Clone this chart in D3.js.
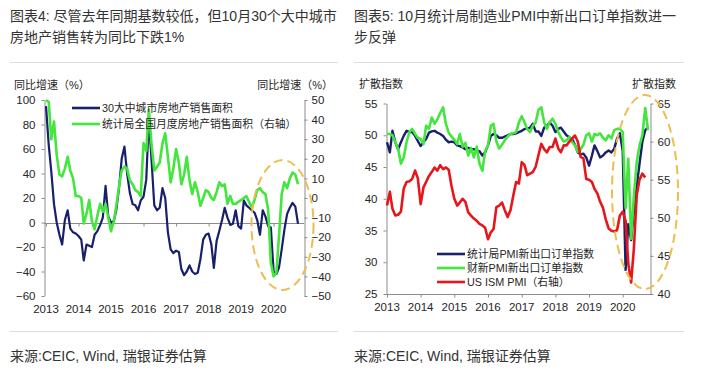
<!DOCTYPE html>
<html>
<head>
<meta charset="utf-8">
<script src="https://cdn.jsdelivr.net/npm/d3@7"></script>
<style>
  body { margin: 0; background: #fff; }
  svg { display: block; font-family: "Liberation Sans", Arial, "Noto Sans CJK SC", sans-serif; }
  .cjk { font-family: "Liberation Sans", Arial, "Noto Sans CJK SC", sans-serif; }
</style>
</head>
<body>
<svg id="chart" width="704" height="373"></svg>
<script>
// ---------- data (monthly, Jan 2013 onwards) ----------
const yearLabels = ['2013', '2014', '2015', '2016', '2017', '2018', '2019', '2020'];

// Chart 4: YoY growth (%)
const city30Sales = [95,63,42,15,0,-10,-18,2,10,-5, -8,-9,-11,-14,-31,-18,-19,-20,-10,-7,
  -2,4,30,5,0,1,10,28,52,62, 40,24,15,14,10,18,21,35,85,50, 14,10,12,28,20,-8,-22,-25,-23,-24,
  -38,-43,-40,-35,-40,-42,-41,-30,-14,-10, -9,-18,-37,-15,-7,2,12,4,-2,-1, 10,-3,-5,18,14,12,10,8,2,-10,
  10,5,-3,-4,-40,-42,-37,-22,-6,7, 12,16,13,-1];
const nationalSales = [50,49,30,39,22,12,11,15,21,14, 10,1,1,0,-13,-8,-1,-12,-16,-9,
  -3,-7,-3,-10,-17,-12,-4,6,14,16, 15,9,7,4,3,1,28,24,45,27, 14,16,18,28,33,21,8,15,25,18,
  7,12,21,9,2,8,3,-4,0,4, 3,0,-1,3,8,6,7,-3,1,-3, -3,-2,-1,0,1,-2,-5,-1,4,5,
  3,2,-6,-33,-40,-38,-20,2,8,5, 10,13,12,7];
const leftTicks4 = [-60, -40, -20, 0, 20, 40, 60, 80, 100];
const rightTicks4 = [-50, -40, -30, -20, -10, 0, 10, 20, 30, 40, 50];

// Chart 5: diffusion indices
const nbsExportOrders = [48.9,47.3,50.7,48.9,47.8,48.9,49.9,50.7,50.5,50.5, 49.9,49.1,48.3,48.9,49.4,50.4,50.6,50.7,50.4,50.2,
  49.9,49.3,48.9,49.0,48.9,48.4,48.3,48.1,47.8,48.0, 47.8,47.8,47.6,47.5,46.8,47.3,48.4,49.9,50.2,50.0,
  49.6,49.6,49.8,50.0,50.2,50.2,50.3,50.5,50.7,51.0, 51.0,51.2,51.8,50.6,50.6,49.9,51.2,51.5,52.0,51.5,
  50.5,51.0,51.2,50.6,50.0,49.7,49.4,48.5,47.3,47.0, 47.1,46.5,45.2,46.8,48.4,47.5,46.5,46.8,47.3,47.6,
  47.3,47.9,49.5,50.3,47.5,28.8,36.0,33.5,38.0,42.0, 45.5,49.0,50.8,51.2];
const caixinExportOrders = [50.2,50.2,50.0,48.9,47.9,45.5,46.5,48.9,50.5,51.0, 50.2,49.6,49.4,48.6,51.5,51.0,52.8,51.8,52.5,53.5,
  54.4,51.8,50.4,49.8,49.3,48.6,50.2,48.2,48.8,46.8, 48.0,46.5,48.2,45.5,44.4,47.5,48.4,51.5,51.8,49.0,
  47.9,48.5,49.2,49.8,50.2,50.3,50.5,52.0,53.0,52.0, 51.0,50.5,51.5,52.0,54.0,54.4,52.0,51.0,52.1,52.6,
  51.8,50.5,49.7,49.0,49.2,49.7,48.9,48.4,47.4,47.8, 48.5,50.0,50.3,49.0,50.2,50.0,50.3,49.6,49.2,50.0,
  49.5,50.8,51.0,51.0,50.5,38.5,46.3,33.7,40.5,45.8, 48.4,50.0,54.3,50.8];
const usIsmPmi = [51.6,53.4,51.2,50.3,50.4,50.8,53.8,54.7,54.8,55.1, 56.2,55.2,51.8,54.0,54.7,55.5,56.0,56.6,56.2,56.9,
  56.4,56.6,56.3,54.2,52.5,51.6,52.0,52.5,52.1,50.7, 50.3,49.9,49.6,49.2,49.0,48.7,47.2,48.1,48.5,51.4,
  51.6,52.0,51.0,50.1,51.0,52.9,54.7,54.5,57.3,56.9, 55.6,55.8,56.0,56.7,58.2,59.7,59.0,58.6,59.3,59.3,
  60.4,59.1,58.6,59.5,59.5,60.0,60.4,60.8,60.0,58.0, 57.8,55.1,55.0,54.7,53.8,53.2,52.1,51.3,49.8,48.6,
  48.3,48.2,48.4,50.3,50.8,49.6,44.0,41.5,46.0,53.0, 55.0,55.8,55.3];
const leftTicks5 = [25, 30, 35, 40, 45, 50, 55];
const rightTicks5 = [40, 45, 50, 55, 60, 65];

// ---------- texts ----------
const title4 = ['图表4: 尽管去年同期基数较低，但10月30个大中城市', '房地产销售转为同比下跌1%'];
const title5 = ['图表5: 10月统计局制造业PMI中新出口订单指数进一', '步反弹'];
const source = '来源:CEIC, Wind, 瑞银证券估算';

const months = d3.timeMonth.range(new Date(2013, 0, 1), new Date(2020, 10, 1));
const yearStarts = yearLabels.map(y => new Date(+y, 0, 1));

const C = { navy: '#18206b', green: '#42e63c', red: '#e5171b', gold: '#eebd4f', axis: '#8c8c8c', text: '#262626' };

const svg = d3.select('#chart');

// header / footer text + rules
function frameText(x0, x1, lines) {
  lines.forEach((t, i) => {
    svg.append('text').attr('class', 'cjk').attr('x', x0).attr('y', 21 + i * 21)
      .attr('font-size', 14).attr('fill', '#333').text(t);
  });
  svg.append('line').attr('x1', x0).attr('x2', x1).attr('y1', 62.5).attr('y2', 62.5)
    .attr('stroke', '#dcdcdc');
  svg.append('line').attr('x1', x0).attr('x2', x1).attr('y1', 331.5).attr('y2', 331.5)
    .attr('stroke', '#dcdcdc');
  svg.append('text').attr('class', 'cjk').attr('x', x0).attr('y', 361)
    .attr('font-size', 14).attr('fill', '#333').text(source);
}
frameText(10, 338, title4);
frameText(354, 684, title5);

function lineOf(scale, vals) {
  return d3.line().x((d, i) => scale.x(months[i])).y(d => scale.y(d))(vals);
}

function yAxis(g, gen, x) {
  const a = g.append('g').attr('transform', `translate(${x},0)`).call(gen);
  a.select('.domain').attr('stroke', C.axis);
  a.selectAll('.tick line').attr('stroke', C.axis);
  a.selectAll('.tick text').attr('font-size', 11.5).attr('fill', C.text);
  return a;
}

function legend(g, items, x, y0, dy) {
  items.forEach((it, i) => {
    const y = y0 + i * dy;
    g.append('line').attr('x1', x).attr('x2', x + 28).attr('y1', y).attr('y2', y)
      .attr('stroke', it.color).attr('stroke-width', 2.6);
    g.append('text').attr('class', 'cjk').attr('x', x + 30).attr('y', y + 4)
      .attr('font-size', 10.8).attr('fill', C.text).text(it.label);
  });
}

function dashedEllipse(g, cx, cy, rx, ry) {
  g.append('ellipse').attr('cx', cx).attr('cy', cy).attr('rx', rx).attr('ry', ry)
    .attr('fill', 'none').attr('stroke', C.gold).attr('stroke-width', 2)
    .attr('stroke-dasharray', '9,5');
}

// ---------- chart 4 ----------
(function () {
  const g = svg.append('g');
  const x = d3.scaleTime().domain([months[0], months[months.length - 1]]).range([46, 298]);
  const yL = d3.scaleLinear().domain([-60, 100]).range([296, 100]);
  const yR = d3.scaleLinear().domain([-50, 50]).range([296, 100]);

  yAxis(g, d3.axisLeft(yL).tickValues(leftTicks4).tickSize(3).tickPadding(6).tickSizeOuter(0), 44.5);
  yAxis(g, d3.axisRight(yR).tickValues(rightTicks4).tickSize(3).tickPadding(4).tickSizeOuter(0), 304.5);

  // zero line with year ticks, labels at the bottom
  const xa = g.append('g').attr('transform', `translate(0,${Math.round(yL(0)) + 0.5})`)
    .call(d3.axisBottom(x).tickValues(yearStarts).tickSize(3).tickFormat(''));
  xa.select('.domain').attr('d', 'M44,0H304').attr('stroke', C.axis);
  xa.selectAll('.tick line').attr('stroke', C.axis);
  g.selectAll('text.yr').data(yearLabels).enter().append('text').attr('class', 'yr')
    .attr('x', (d, i) => x(yearStarts[i])).attr('y', 313).attr('text-anchor', 'middle')
    .attr('font-size', 11.5).attr('fill', C.text).text(d => d);

  g.append('text').attr('class', 'cjk').attr('x', 14).attr('y', 89).attr('font-size', 11)
    .attr('fill', C.text).text('同比增速（%）');
  g.append('text').attr('class', 'cjk').attr('x', 333).attr('y', 89).attr('font-size', 11)
    .attr('text-anchor', 'end').attr('fill', C.text).text('同比增速（%）');

  g.append('path').attr('d', lineOf({ x, y: yL }, city30Sales))
    .attr('fill', 'none').attr('stroke', C.navy).attr('stroke-width', 2.2).attr('stroke-linejoin', 'round');
  g.append('path').attr('d', lineOf({ x, y: yR }, nationalSales))
    .attr('fill', 'none').attr('stroke', C.green).attr('stroke-width', 2.6).attr('stroke-linejoin', 'round');

  legend(g, [
    { label: '30大中城市房地产销售面积', color: C.navy },
    { label: '统计局全国月度房地产销售面积（右轴）', color: C.green }
  ], 72, 108, 16);

  dashedEllipse(g, 282.5, 225, 31, 65);
})();

// ---------- chart 5 ----------
(function () {
  const g = svg.append('g');
  const x = d3.scaleTime().domain([months[0], months[months.length - 1]]).range([387, 648]);
  const yL = d3.scaleLinear().domain([25, 55]).range([294, 103.5]);
  const yR = d3.scaleLinear().domain([40, 65]).range([294, 103.5]);

  yAxis(g, d3.axisLeft(yL).tickValues(leftTicks5).tickSize(3).tickPadding(6).tickSizeOuter(0), 386.5);
  yAxis(g, d3.axisRight(yR).tickValues(rightTicks5).tickSize(3).tickPadding(4).tickSizeOuter(0), 650.5);

  const xa = g.append('g').attr('transform', 'translate(0,294.5)')
    .call(d3.axisBottom(x).tickValues(yearStarts).tickSize(3).tickFormat(''));
  xa.select('.domain').attr('d', 'M386,0H651').attr('stroke', C.axis);
  xa.selectAll('.tick line').attr('stroke', C.axis);
  g.selectAll('text.yr').data(yearLabels).enter().append('text').attr('class', 'yr')
    .attr('x', (d, i) => x(yearStarts[i])).attr('y', 311).attr('text-anchor', 'middle')
    .attr('font-size', 11.5).attr('fill', C.text).text(d => d);

  g.append('text').attr('class', 'cjk').attr('x', 359).attr('y', 88).attr('font-size', 11)
    .attr('fill', C.text).text('扩散指数');
  g.append('text').attr('class', 'cjk').attr('x', 676).attr('y', 88).attr('font-size', 11)
    .attr('text-anchor', 'end').attr('fill', C.text).text('扩散指数');

  g.append('path').attr('d', lineOf({ x, y: yL }, nbsExportOrders))
    .attr('fill', 'none').attr('stroke', C.navy).attr('stroke-width', 2.4).attr('stroke-linejoin', 'round');
  g.append('path').attr('d', lineOf({ x, y: yL }, caixinExportOrders))
    .attr('fill', 'none').attr('stroke', C.green).attr('stroke-width', 2.6).attr('stroke-linejoin', 'round');
  g.append('path').attr('d', lineOf({ x, y: yR }, usIsmPmi))
    .attr('fill', 'none').attr('stroke', C.red).attr('stroke-width', 2.6).attr('stroke-linejoin', 'round');

  legend(g, [
    { label: '统计局PMI新出口订单指数', color: C.navy },
    { label: '财新PMI新出口订单指数', color: C.green },
    { label: 'US ISM PMI（右轴）', color: C.red }
  ], 437, 254, 14);

  dashedEllipse(g, 645, 192, 33, 97);
})();
</script>
</body>
</html>
